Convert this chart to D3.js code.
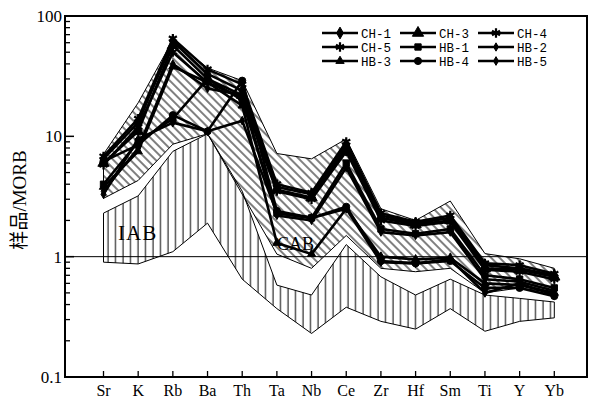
<!DOCTYPE html>
<html lang="zh">
<head>
<meta charset="UTF-8">
<title>MORB spider diagram</title>
<style>
  body { margin: 0; background: #fff; }
  svg { display: block; }
</style>
</head>
<body>
<div class="container"></div>
<script src="https://cdn.jsdelivr.net/npm/d3@7/dist/d3.min.js"></script>
<script>
// categories and values (sample / MORB)
const elements = ["Sr", "K", "Rb", "Ba", "Th", "Ta", "Nb", "Ce", "Zr", "Hf", "Sm", "Ti", "Y", "Yb"]
const yTicks = [0.1, 1, 10, 100]
const yTickLabels = ["0.1", "1", "10", "100"]

const seriesNames = ["CH-1", "CH-3", "CH-4", "CH-5", "HB-1", "HB-2", "HB-3", "HB-4", "HB-5"]
const ch1 = [6.5, 13, 62, 33, 24, 3.8, 3.3, 8.5, 2.2, 1.9, 2.1, 0.85, 0.8, 0.7]
const ch3 = [6.0, 11, 57, 30, 22, 3.6, 3.1, 8.0, 2.1, 1.85, 2.0, 0.8, 0.78, 0.68]
const ch4 = [6.8, 14, 65, 36, 27, 4.0, 3.4, 9.0, 2.3, 1.95, 2.2, 0.88, 0.85, 0.72]
const ch5 = [5.8, 12, 50, 28, 21, 3.5, 3.0, 7.5, 2.0, 1.8, 1.95, 0.78, 0.75, 0.65]
const hb1 = [4.0, 9, 14, 30, 20, 2.3, 2.1, 6.0, 1.7, 1.55, 1.7, 0.7, 0.65, 0.55]
const hb2 = [3.5, 8, 40, 25, 22, 2.2, 2.0, 5.5, 1.6, 1.5, 1.6, 0.65, 0.62, 0.52]
const hb3 = [3.8, 7.5, 38, 28, 18, 1.3, 1.05, 2.5, 1.0, 0.95, 0.98, 0.6, 0.58, 0.5]
const hb4 = [6.2, 8.5, 15, 11, 29, 2.4, 2.1, 2.6, 0.92, 0.88, 0.92, 0.55, 0.55, 0.47]
const hb5 = [3.3, 9.5, 13, 11, 13.5, 2.3, 2.1, 2.5, 0.9, 0.88, 0.95, 0.5, 0.6, 0.48]
const seriesValues = [ch1, ch3, ch4, ch5, hb1, hb2, hb3, hb4, hb5]

// field envelopes
const cabUpper = [7.1, 19, 63, 37, 29, 7.2, 6.5, 9.5, 2.5, 2.0, 2.9, 1.06, 0.96, 0.8]
const cabLower = [3.05, 4.3, 8.6, 10.5, 3.3, 1.05, 0.8, 1.5, 0.8, 0.75, 0.8, 0.5, 0.55, 0.5]
const iabUpper = [2.3, 3.2, 7.5, 10.5, 3.5, 0.58, 0.48, 1.26, 0.68, 0.48, 0.65, 0.48, 0.45, 0.42]
const iabLower = [0.9, 0.87, 1.1, 1.9, 0.65, 0.37, 0.23, 0.38, 0.29, 0.25, 0.37, 0.24, 0.29, 0.31]

const width = 590
const height = 412
const mLeft = 65, mRight = 587, mTop = 16, mBottom = 377

const svg = d3.select(".container").append("svg")
    .attr("width", width)
    .attr("height", height)

const x = d3.scaleLinear().domain([0, elements.length - 1]).range([103.5, 554.3])
const y = d3.scaleLog().domain([0.1, 100]).range([mBottom, mTop])

const defs = svg.append("defs")
defs.append("pattern")
    .attr("id", "diag")
    .attr("patternUnits", "userSpaceOnUse")
    .attr("width", 6).attr("height", 6)
    .attr("patternTransform", "rotate(-45)")
  .append("line")
    .attr("x1", 3).attr("y1", 0).attr("x2", 3).attr("y2", 6)
    .attr("stroke", "#000").attr("stroke-width", 1)
defs.append("pattern")
    .attr("id", "vert")
    .attr("patternUnits", "userSpaceOnUse")
    .attr("width", 7.5).attr("height", 10)
  .append("line")
    .attr("x1", 3).attr("y1", 0).attr("x2", 3).attr("y2", 10)
    .attr("stroke", "#000").attr("stroke-width", 1)

const area = d3.area()
    .x((d, i) => x(i))
    .y0(d => y(d[0]))
    .y1(d => y(d[1]))

function field(lower, upper, pat) {
    const pts = lower.map((v, i) => [v, upper[i]])
    svg.append("path")
        .attr("d", area(pts))
        .attr("fill", `url(#${pat})`)
        .attr("stroke", "#000")
        .attr("stroke-width", 1)
}
field(iabLower, iabUpper, "vert")
field(cabLower, cabUpper, "diag")

// line at 1
svg.append("line")
    .attr("x1", mLeft).attr("x2", mRight)
    .attr("y1", y(1)).attr("y2", y(1))
    .attr("stroke", "#000").attr("stroke-width", 1)

// field labels
svg.append("text").attr("x", 118).attr("y", 240)
    .attr("font-family", "Liberation Serif").attr("font-size", 21)
    .attr("letter-spacing", 1)
    .text("IAB")
svg.append("text").attr("x", 277).attr("y", 250)
    .attr("font-family", "Liberation Serif").attr("font-size", 18)
    .text("CAB")

// series
const symbols = [
    {type: d3.symbolDiamond, size: 40, fill: true},
    {type: d3.symbolTriangle, size: 55, fill: true},
    {type: d3.symbolAsterisk, size: 60, fill: false},
    {type: d3.symbolAsterisk, size: 60, fill: false},
    {type: d3.symbolSquare, size: 40, fill: true},
    {type: d3.symbolDiamond, size: 20, fill: true},
    {type: d3.symbolTriangle, size: 30, fill: true},
    {type: d3.symbolCircle, size: 40, fill: true},
    {type: d3.symbolDiamond, size: 22, fill: true}
]

const line = d3.line().x((d, i) => x(i)).y(d => y(d))

seriesValues.forEach((vals, s) => {
    const g = svg.append("g").attr("class", "series")
    g.append("path")
        .attr("d", line(vals))
        .attr("fill", "none")
        .attr("stroke", "#000")
        .attr("stroke-width", 2.6)
        .attr("stroke-linejoin", "round")
    const sym = symbols[s]
    g.selectAll("path.pt").data(vals).join("path")
        .attr("class", "pt")
        .attr("transform", (d, i) => `translate(${x(i)},${y(d)})`)
        .attr("d", d3.symbol().type(sym.type).size(sym.size))
        .attr("fill", sym.fill ? "#000" : "none")
        .attr("stroke", "#000")
        .attr("stroke-width", sym.fill ? 1 : 2.2)
})

// frame
svg.append("rect")
    .attr("x", mLeft).attr("y", mTop)
    .attr("width", mRight - mLeft).attr("height", mBottom - mTop)
    .attr("fill", "none").attr("stroke", "#000").attr("stroke-width", 2)

// y ticks (inside)
const minor = []
for (let e = -1; e < 2; e++) {
    for (let k = 2; k < 10; k++) minor.push(k * Math.pow(10, e))
}
svg.selectAll("line.minor").data(minor).join("line")
    .attr("class", "minor")
    .attr("x1", mLeft).attr("x2", mLeft + 5)
    .attr("y1", d => y(d)).attr("y2", d => y(d))
    .attr("stroke", "#000").attr("stroke-width", 1.3)
svg.selectAll("line.major").data(yTicks).join("line")
    .attr("class", "major")
    .attr("x1", mLeft).attr("x2", mLeft + 9)
    .attr("y1", d => y(d)).attr("y2", d => y(d))
    .attr("stroke", "#000").attr("stroke-width", 1.5)
svg.selectAll("text.ylab").data(yTicks).join("text")
    .attr("class", "ylab")
    .attr("x", mLeft - 3)
    .attr("y", d => y(d) + 6)
    .attr("text-anchor", "end")
    .attr("font-family", "Liberation Serif")
    .attr("font-size", 17)
    .text((d, i) => yTickLabels[i])

// x ticks (inside)
svg.selectAll("line.xt").data(elements).join("line")
    .attr("class", "xt")
    .attr("x1", (d, i) => x(i)).attr("x2", (d, i) => x(i))
    .attr("y1", mBottom).attr("y2", mBottom - 6)
    .attr("stroke", "#000").attr("stroke-width", 1.3)
svg.selectAll("text.xlab").data(elements).join("text")
    .attr("class", "xlab")
    .attr("x", (d, i) => x(i))
    .attr("y", 396)
    .attr("text-anchor", "middle")
    .attr("font-family", "Liberation Serif")
    .attr("font-size", 16)
    .text(d => d)

// y title
svg.append("text")
    .attr("transform", "translate(26,200) rotate(-90)")
    .attr("text-anchor", "middle")
    .attr("font-family", "Liberation Serif, Noto Sans CJK SC")
    .attr("font-size", 19)
    .text("样品/MORB")

// legend
const legX = [322, 400, 478]
const legY = [33, 47, 61]
seriesNames.forEach((name, s) => {
    const cx = legX[s % 3], cy = legY[Math.floor(s / 3)]
    const sym = symbols[s]
    svg.append("line")
        .attr("x1", cx).attr("x2", cx + 36)
        .attr("y1", cy).attr("y2", cy)
        .attr("stroke", "#000").attr("stroke-width", 2.4)
    svg.append("path")
        .attr("transform", `translate(${cx + 18},${cy})`)
        .attr("d", d3.symbol().type(sym.type).size(sym.size))
        .attr("fill", sym.fill ? "#000" : "none")
        .attr("stroke", "#000")
        .attr("stroke-width", sym.fill ? 1 : 2.2)
    svg.append("text")
        .attr("x", cx + 39).attr("y", cy + 4.5)
        .attr("font-family", "Liberation Mono")
        .attr("font-size", 12.5)
        .text(name)
})
</script>
</body>
</html>
